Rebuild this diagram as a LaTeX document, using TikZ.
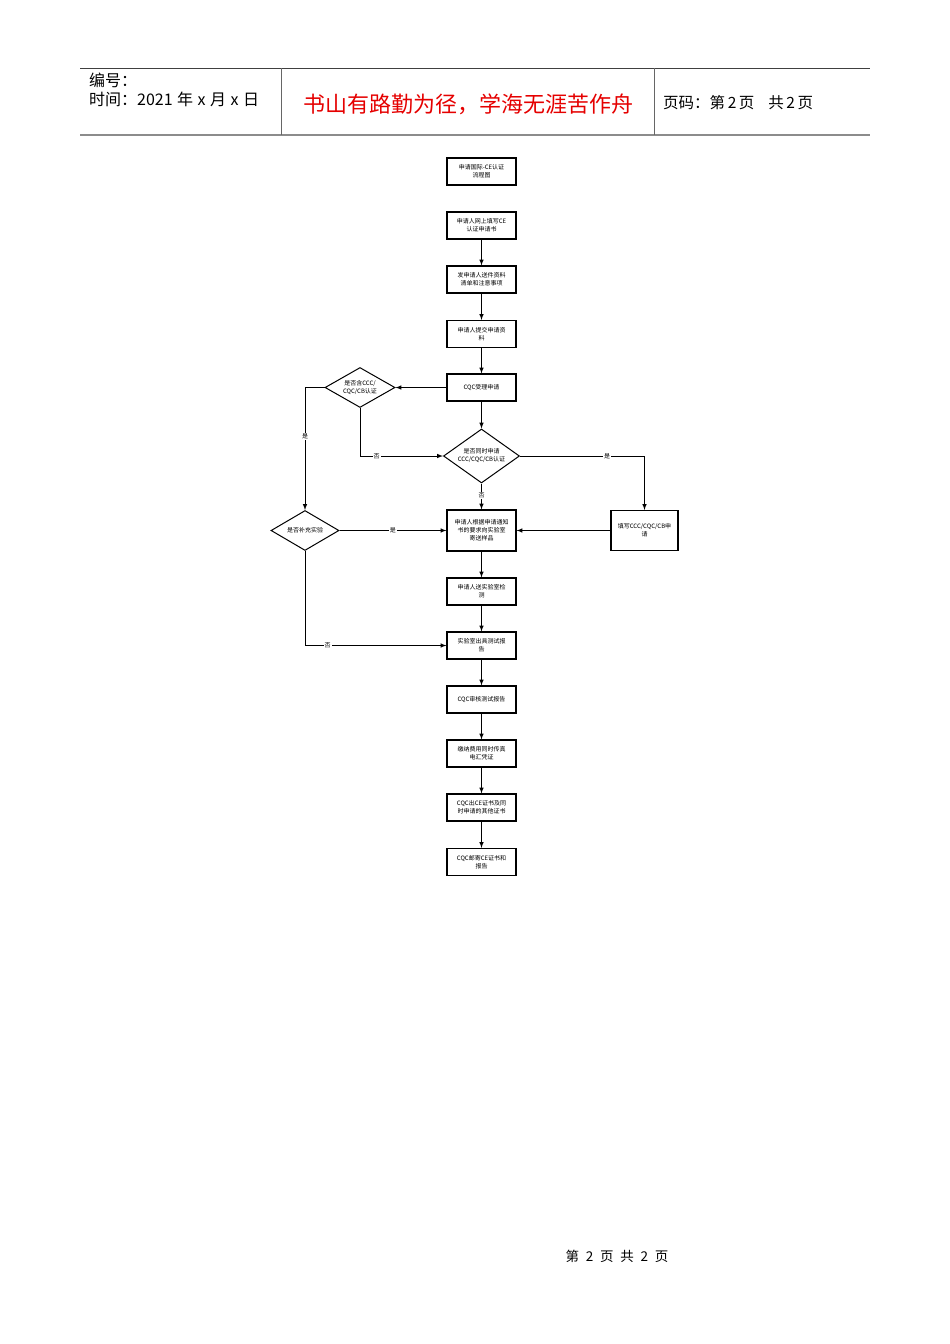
\documentclass[tikz,border=0pt]{standalone}
\usepackage{fontspec}
\setmainfont{Liberation Sans}
\newfontfamily\cjk{Noto Sans CJK SC}
\usetikzlibrary{shapes.geometric}

\begin{document}
\begin{tikzpicture}[x=1pt,y=-1pt,>=latex,
	box/.style={draw,line width=1.1pt,minimum width=69pt,minimum height=27pt,inner sep=1pt,align=center,font=\cjk\fontsize{6}{8}\selectfont},
	decide/.style={diamond,draw,line width=1pt,aspect=1.8,inner sep=0pt,align=center,font=\cjk\fontsize{6}{8}\selectfont},
	flow/.style={->,line width=1pt},
	tag/.style={fill=white,inner sep=1pt,font=\cjk\fontsize{6}{7}\selectfont}]

	\useasboundingbox (0,0) rectangle (950,1344);

	% header
	\draw[line width=0.8pt, black!75] (80,68) -- (870,68);
	\draw[line width=1.6pt, black!45] (80,135) -- (870,135);
	\draw[line width=0.8pt, black!60] (281,68) -- (281,135);
	\draw[line width=0.8pt, black!60] (654,68) -- (654,135);
	\node[anchor=west,inner sep=0pt,font=\cjk\fontsize{16}{19}\selectfont] (hdrno) at (89,80) {编号：};
	\node[anchor=west,inner sep=0pt,font=\cjk\fontsize{16}{19}\selectfont] (hdrdate) at (89,99) {时间：2021\hspace{4.5pt}年\hspace{4.5pt}x\hspace{4.5pt}月\hspace{4.5pt}x\hspace{4.5pt}日};
	\node[inner sep=0pt,text=red!90!black,font=\cjk\fontsize{22}{26}\selectfont] (motto) at (468,104) {书山有路勤为径，学海无涯苦作舟};
	\node[anchor=west,inner sep=0pt,font=\cjk\fontsize{15.5}{18}\selectfont] (hdrpage) at (663,103) {页码：第\,2\,页\enspace\, 共\,2\,页};

	% flow chart
	\node[box] (title) at (481.5,171.5) {申请国际-CE认证\\流程图};
	\node[box] (apply) at (481.5,225.5) {申请人网上填写CE\\认证申请书};
	\node[box] (list) at (481.5,279.5) {发申请人送件资料\\清单和注意事项};
	\node[box] (submit) at (481.5,334) {申请人提交申请资\\料};
	\node[box] (accept) at (481.5,387.5) {CQC受理申请};
	\node[decide,minimum width=70pt,minimum height=40pt] (hasccc) at (360,387.5) {是否含CCC/\\CQC/CB认证};
	\node[decide,minimum width=76pt,minimum height=54pt] (same) at (481.5,456) {是否同时申请\\CCC/CQC/CB认证};
	\node[box,minimum height=41pt] (sample) at (481.5,530.5) {申请人根据申请通知\\书的要求向实验室\\寄送样品};
	\node[box,minimum width=67pt,minimum height=40pt] (fillin) at (644.5,530.5) {填写CCC/CQC/CB申\\请};
	\node[decide,minimum width=68pt,minimum height=40pt] (extra) at (305,530.5) {是否补充实验};
	\node[box] (lab) at (481.5,591.5) {申请人送实验室检\\测};
	\node[box] (report) at (481.5,645.5) {实验室出具测试报\\告};
	\node[box] (check) at (481.5,699.5) {CQC审核测试报告};
	\node[box] (fee) at (481.5,753.5) {缴纳费用同时传真\\电汇凭证};
	\node[box] (cert) at (481.5,807.5) {CQC出CE证书及同\\时申请的其他证书};
	\node[box] (mail) at (481.5,862) {CQC邮寄CE证书和\\报告};

	\draw[flow] (apply) -- (list);
	\draw[flow] (list) -- (submit);
	\draw[flow] (submit) -- (accept);
	\draw[flow] (accept) -- (hasccc);
	\draw[flow] (accept) -- (same);
	\draw[flow] (hasccc.west) -| node[tag,pos=0.7] {是} (extra.north);
	\draw[flow] (hasccc.south) |- node[tag,pos=0.6] {否} (same.west);
	\draw[flow] (same.east) -| node[tag,pos=0.35] {是} (fillin.north);
	\draw[flow] (same.south) -- node[tag,pos=0.45] {否} (sample.north);
	\draw[flow] (fillin) -- (sample);
	\draw[flow] (extra.east) -- node[tag] {是} (sample.west);
	\draw[flow] (extra.south) |- node[tag,pos=0.58] {否} (report.west);
	\draw[flow] (sample) -- (lab);
	\draw[flow] (lab) -- (report);
	\draw[flow] (report) -- (check);
	\draw[flow] (check) -- (fee);
	\draw[flow] (fee) -- (cert);
	\draw[flow] (cert) -- (mail);

	% footer
	\node[inner sep=0pt,font=\cjk\fontsize{13.5}{16}\selectfont] (footer) at (617,1256) {第\enspace 2\enspace 页\enspace 共\enspace 2\enspace 页};

\end{tikzpicture}
\end{document}
